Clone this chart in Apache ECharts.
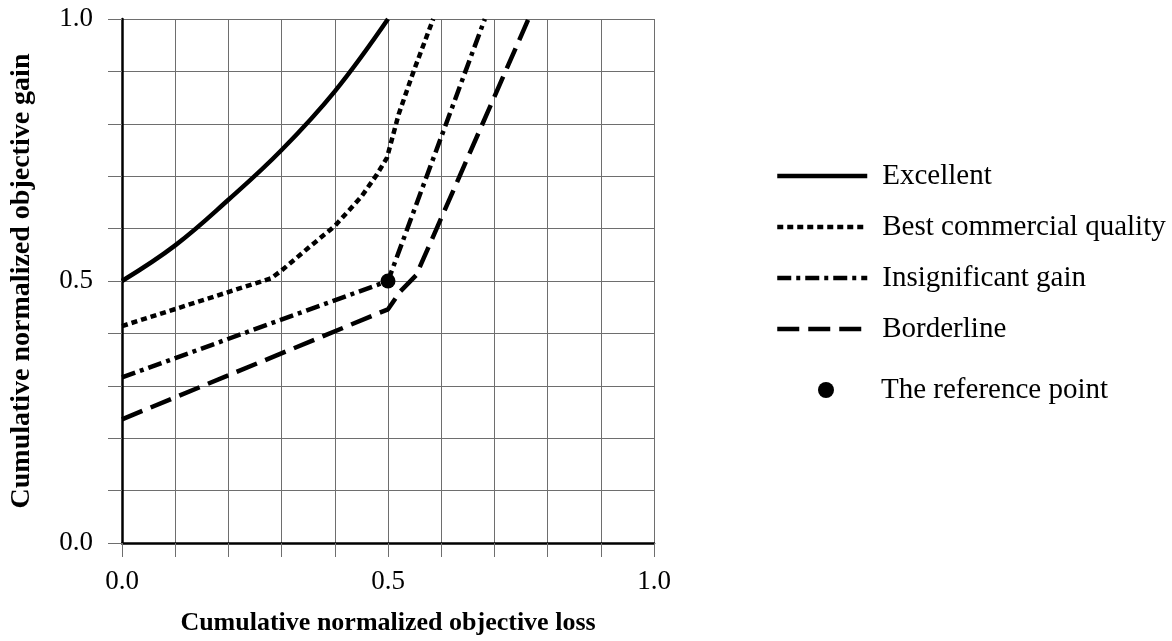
<!DOCTYPE html>
<html>
<head>
<meta charset="utf-8">
<script src="https://cdn.jsdelivr.net/npm/echarts@6/dist/echarts.min.js"></script>
<style>html,body{margin:0;padding:0;background:#fff;}#c{width:1172px;height:641px;}</style>
</head>
<body>
<div id="c"></div>
<script>
var excellent = [[0,0.5],[0.1,0.568],[0.2,0.655],[0.3,0.75],[0.4,0.862],[0.5,1.0]];
var bestCommercial = [[0,0.414],[0.28,0.505],[0.3,0.52],[0.35,0.563],[0.4,0.605],[0.45,0.661],[0.479,0.703],[0.498,0.735],[0.52,0.818],[0.548,0.9],[0.585,1.0]];
var insignificant = [[0,0.316],[0.5,0.5],[0.682,1.0]];
var borderline = [[0,0.236],[0.5,0.446],[0.523,0.48],[0.553,0.511],[0.764,1.0]];
var referencePoint = [[0.5,0.5]];
var seriesNames = ['Excellent','Best commercial quality','Insignificant gain','Borderline'];
var pointName = 'The reference point';
var xName = 'Cumulative normalized objective loss';
var yName = 'Cumulative normalized objective gain';

var FONT = "'Liberation Serif','Times New Roman',serif";
var chart = echarts.init(document.getElementById('c'));
function lbl(v){ return Math.round(v*10) % 5 === 0 ? v.toFixed(1) : ''; }
function lineSeries(name, data, type, smooth){
  return {name:name, type:'line', data:data, symbol:'none', showSymbol:false, smooth:smooth||false,
    lineStyle:{color:'#000', width:4.5, type:type, cap:'butt'}, itemStyle:{color:'#000'}, z:3};
}
var legendText1 = {fontFamily:FONT, fontSize:29, color:'#000', lineHeight:30, padding:[0,0,0,10]};
var legendText2 = {fontFamily:FONT, fontSize:29, color:'#000', lineHeight:30, padding:[0,0,0,5]};
chart.setOption({
  animation:false,
  backgroundColor:'#fff',
  grid:{left:122, right:518, top:19, bottom:98},
  xAxis:{type:'value', min:0, max:1, interval:0.1,
    name:xName, nameLocation:'middle', nameGap:67,
    nameTextStyle:{fontFamily:FONT, fontSize:26, fontWeight:'bold', color:'#000'},
    axisLine:{show:true, lineStyle:{color:'#000', width:2.5}},
    axisTick:{show:true, length:14, lineStyle:{color:'#6e6e6e', width:1}},
    axisLabel:{formatter:lbl, fontFamily:FONT, fontSize:27, color:'#000', margin:25, showMinLabel:true, showMaxLabel:true},
    splitLine:{show:true, lineStyle:{color:'#6e6e6e', width:1}}
  },
  yAxis:{type:'value', min:0, max:1, interval:0.1,
    name:yName, nameLocation:'middle', nameGap:86,
    nameTextStyle:{fontFamily:FONT, fontSize:28, fontWeight:'bold', color:'#000'},
    axisLine:{show:true, lineStyle:{color:'#000', width:2.5}},
    axisTick:{show:true, length:14, lineStyle:{color:'#6e6e6e', width:1}},
    axisLabel:{formatter:lbl, fontFamily:FONT, fontSize:27, color:'#000', margin:29, showMinLabel:true, showMaxLabel:true},
    splitLine:{show:true, lineStyle:{color:'#6e6e6e', width:1}}
  },
  legend:[
    {data:seriesNames, orient:'vertical', left:775, top:161, padding:0, itemWidth:90, itemHeight:14, itemGap:21,
     itemStyle:{opacity:0}, lineStyle:{width:4.5, cap:'butt'},
     textStyle:legendText1, selectedMode:false},
    {data:[pointName], orient:'vertical', left:818, top:375, padding:0, itemWidth:90, itemHeight:16, itemGap:21,
     itemStyle:{opacity:1, color:'#000'},
     textStyle:legendText2, selectedMode:false}
  ],
  series:[
    lineSeries(seriesNames[0], excellent, 'solid', 0.4),
    lineSeries(seriesNames[1], bestCommercial, [6,4]),
    lineSeries(seriesNames[2], insignificant, [14,5,4,5]),
    lineSeries(seriesNames[3], borderline, [22,9]),
    {name:pointName, type:'scatter', data:referencePoint, symbol:'circle', symbolSize:15,
     itemStyle:{color:'#000', opacity:1}, z:5}
  ]
});
</script>
</body>
</html>
